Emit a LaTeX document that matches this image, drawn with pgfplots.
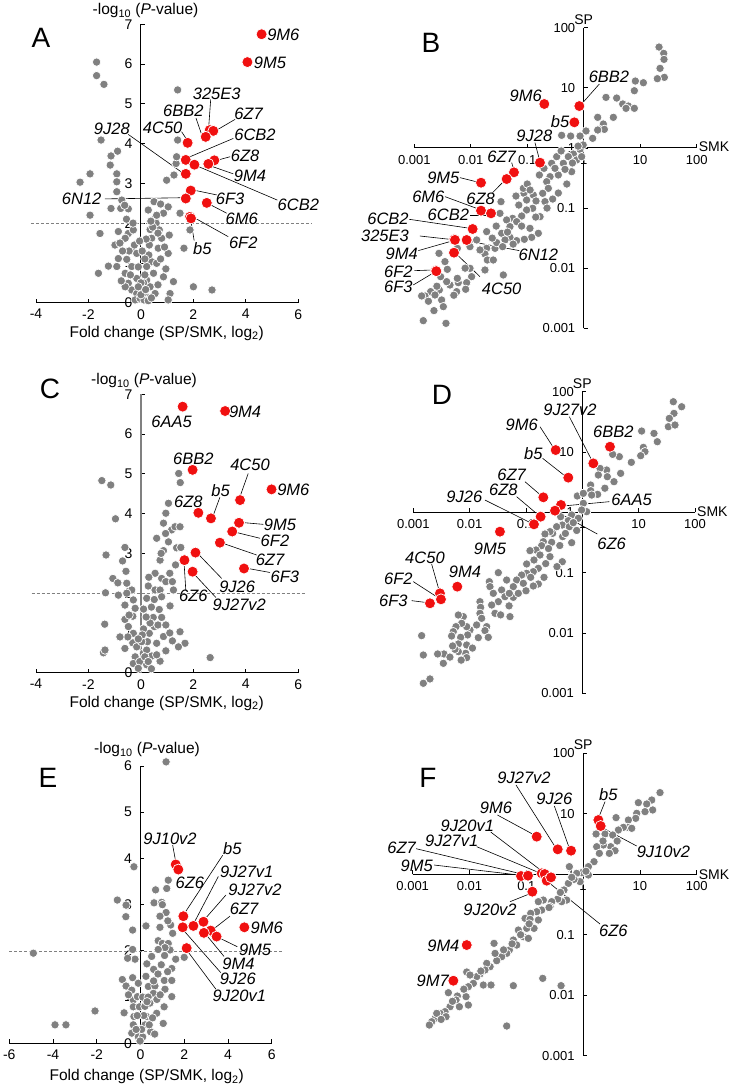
\documentclass[border=0pt]{standalone}
\usepackage{fontspec}
\setmainfont{Liberation Sans}
\usepackage{pgfplots}
\pgfplotsset{compat=1.18}
\definecolor{dgrey}{RGB}{128,128,128}
\definecolor{dred}{RGB}{240,16,16}
\pgfplotsset{
 panel/.style={scale only axis, anchor=south west, axis lines=middle,
   axis line style={-, black, line width=0.9bp}, clip=false, enlargelimits=false,
   tick align=inside, major tick length=4bp, tick style={black, line width=0.8bp},
   hide obscured x ticks=false, hide obscured y ticks=false},
 lin/.style={ticklabel style={font=\fontsize{14bp}{16bp}\selectfont},
   xticklabel style={yshift=-3bp}, yticklabel style={xshift=-5bp}},
 logp/.style={xmin=-3,xmax=2,ymin=-3,ymax=2, xtick={-3,-2,-1,0,1,2}, ytick={-3,-2,-1,0,1,2},
   xticklabels={0.001,0.01,0.1,1,10,100}, yticklabels={0.001,0.01,0.1,1,10,100},
   ticklabel style={font=\fontsize{13bp}{15bp}\selectfont},
   xticklabel style={yshift=-4bp}, yticklabel style={xshift=-5bp}},
 gdots/.style={only marks, mark=*, mark size=4.2bp, mark options={fill=dgrey, draw=white, line width=0.7bp}},
 rdots/.style={only marks, mark=*, mark size=5.5bp, mark options={fill=dred, draw=white, line width=0.7bp}},
}
\tikzset{
 lab/.style={font=\fontsize{16.5bp}{18bp}\selectfont\itshape, inner sep=0pt},
 ld/.style={black, line width=0.6bp},
 thr/.style={dgrey, line width=0.7bp, dash pattern=on 3bp off 2bp},
 ttl/.style={font=\fontsize{15.5bp}{18bp}\selectfont, inner sep=0pt},
 let/.style={font=\fontsize{28bp}{30bp}\selectfont, inner sep=0pt},
 axn/.style={font=\fontsize{14bp}{16bp}\selectfont, inner sep=0pt},
}
\begin{document}
\begin{tikzpicture}
\path[use as bounding box] (0,0) rectangle (738bp,-1089bp);
% ================= A =================
\begin{axis}[panel, lin, at={(36bp,-302.7bp)}, width=262.3bp, height=278.4bp,
  xmin=-4,xmax=6,ymin=0,ymax=7, xtick={-4,-2,0,2,4,6}, xticklabels={-4,-2,0,2,4,6},
  ytick={0,1,2,3,4,5,6,7}, yticklabels={0,1,2,3,4,5,6,7}]
\draw[thr] (axis cs:-4.2,2) -- (axis cs:6.51,2);
\addplot[gdots] table[row sep=\\] {x y\\
-1.69 6.05\\ -1.69 5.71\\ -1.41 5.49\\ -1.52 4.09\\ -0.89 3.81\\ -1.14 3.69\\ -1.17 3.46\\
-1.94 3.24\\ -0.92 3.24\\ -2.32 3.03\\ -0.92 3.04\\ -0.92 2.79\\ -0.73 2.58\\ -1.14 2.37\\
-0.77 2.37\\ -0.48 2.36\\ -0.62 2.45\\ -1.94 2.20\\ -1.56 1.74\\ -0.86 1.79\\ -0.48 1.74\\
-0.29 1.83\\ -0.99 1.45\\ -0.60 1.62\\ -0.35 1.32\\ -0.86 1.11\\ -0.54 1.09\\ -0.16 1.24\\
-0.25 1.45\\ -1.24 0.92\\ -0.92 0.91\\ -1.62 0.74\\ -0.60 0.74\\ -0.35 0.91\\ -0.48 0.49\\
-0.35 0.32\\ -0.16 0.61\\ -0.16 0.23\\ -0.22 0.07\\ -0.03 0.11\\ -0.60 0.40\\ -0.75 0.55\\
0.28 2.33\\ 0.50 2.54\\ 0.75 2.48\\ 1.04 2.41\\ 0.86 2.25\\ 0.54 2.12\\ 0.58 2.00\\
0.70 1.83\\ 0.35 1.84\\ 0.41 1.62\\ 0.79 1.62\\ 1.08 1.70\\ 0.32 1.45\\ 0.66 1.37\\
1.04 1.24\\ 0.41 1.03\\ 0.22 0.91\\ 0.60 0.99\\ 0.48 0.74\\ 0.86 0.65\\ 1.24 0.53\\
0.22 0.57\\ 0.35 0.40\\ 0.54 0.23\\ 1.11 0.23\\ 1.04 0.07\\ 0.22 0.15\\ 0.09 0.23\\
0.12 0.07\\ 2.00 0.40\\ 2.71 0.32\\ 0.98 3.08\\ 1.26 3.21\\ 1.34 3.50\\ 1.36 3.67\\
1.40 4.09\\ 1.40 5.35\\ 1.49 2.25\\ 1.87 1.83\\ 1.64 1.37\\ 0.10 0.50\\ 0.05 0.35\\
0.30 1.20\\ 0.15 1.10\\ 0.00 0.50\\ 0.15 0.70\\ -0.10 0.90\\ 0.05 1.30\\ 0.20 1.60\\
-0.05 1.55\\ 0.45 1.90\\ 0.60 2.20\\ 0.38 2.05\\ 0.65 1.75\\ 0.90 1.40\\ 0.75 1.10\\
0.95 0.85\\ 0.28 0.05\\ 0.40 0.12\\ 0.65 0.45\\ -0.45 1.30\\ -0.70 1.30\\ -0.40 0.70\\
-0.80 1.50\\ -0.55 2.10\\ -0.30 2.00\\ 0.00 0.20\\ 0.18 0.33\\ -0.10 0.40\\
};
\draw[ld] (axis cs:2.66,5.11) -- (axis cs:2.58,4.38);
\draw[ld] (axis cs:3.59,4.61) -- (axis cs:2.89,4.34);
\draw[ld] (axis cs:2.10,4.64) -- (axis cs:2.32,4.22);
\draw[ld] (axis cs:1.55,4.30) -- (axis cs:1.74,4.11);
\draw[ld] (axis cs:3.52,4.13) -- (axis cs:1.87,3.67);
\draw[ld] (axis cs:3.40,3.67) -- (axis cs:2.95,3.59);
\draw[ld] (axis cs:3.52,3.24) -- (axis cs:2.74,3.42);
\draw[ld] (axis cs:-0.48,4.23) -- (axis cs:1.62,3.25);
\draw[ld] (axis cs:5.20,2.58) -- (axis cs:2.10,3.45);
\draw[ld] (axis cs:2.89,2.71) -- (axis cs:2.02,2.83);
\draw[ld] (axis cs:-1.37,2.61) -- (axis cs:1.64,2.64);
\draw[ld] (axis cs:3.27,2.25) -- (axis cs:2.63,2.47);
\draw[ld] (axis cs:3.33,1.66) -- (axis cs:2.00,2.15);
\draw[ld] (axis cs:2.03,1.56) -- (axis cs:1.91,2.04);
\addplot[rdots] table[row sep=\\] {x y\\
4.60 6.75\\ 4.06 6.05\\ 2.62 4.34\\ 2.76 4.32\\ 2.47 4.17\\ 1.78 4.02\\ 1.71 3.59\\ 2.04 3.47\\
1.71 3.24\\ 2.80 3.58\\ 2.57 3.49\\ 1.90 2.82\\ 1.71 2.62\\ 2.51 2.51\\ 1.87 2.16\\ 1.91 2.12\\
};
\node[lab] at (axis cs:5.43,6.73) {9M6};
\node[lab] at (axis cs:4.92,6.04) {9M5};
\node[lab] at (axis cs:2.89,5.24) {325E3};
\node[lab] at (axis cs:4.10,4.76) {6Z7};
\node[lab] at (axis cs:1.62,4.83) {6BB2};
\node[lab] at (axis cs:0.83,4.39) {4C50};
\node[lab] at (axis cs:4.35,4.22) {6CB2};
\node[lab] at (axis cs:3.97,3.70) {6Z8};
\node[lab] at (axis cs:4.16,3.19) {9M4};
\node[lab] at (axis cs:-1.11,4.38) {9J28};
\node[lab] at (axis cs:6.00,2.46) {6CB2};
\node[lab] at (axis cs:3.40,2.61) {6F3};
\node[lab] at (axis cs:-2.26,2.61) {6N12};
\node[lab] at (axis cs:3.84,2.12) {6M6};
\node[lab] at (axis cs:3.90,1.51) {6F2};
\node[lab] at (axis cs:2.34,1.37) {b5};
\end{axis}
% ================= B =================
\begin{axis}[panel, logp, at={(414.3bp,-328.3bp)}, width=282.4bp, height=300.6bp]
\addplot[gdots] table[row sep=\\] {x y\\
1.333 1.678\\ 1.416 1.573\\ 1.351 1.324\\ 1.427 1.174\\ 1.303 1.152\\ 1.421 1.473\\ 0.914 1.113\\
1.056 1.085\\ 0.896 0.952\\ 0.583 0.830\\ 0.394 0.841\\ 0.690 0.731\\ 0.790 0.697\\ 0.749 0.659\\
0.896 0.659\\ 0.524 0.509\\ 0.247 0.509\\ 0.347 0.398\\ 0.276 0.309\\ 0.365 0.309\\ 0.247 0.298\\
0.158 0.160\\ 0.040 0.282\\ -0.066 0.198\\ -0.231 0.198\\ -0.391 0.210\\ -0.066 -0.023\\
-0.184 -0.101\\ -0.273 -0.145\\ -0.361 -0.256\\ -0.214 -0.395\\ -0.332 -0.356\\ -0.479 -0.145\\
-0.568 -0.256\\ -0.704 -0.339\\ -0.786 -0.450\\ -0.597 -0.478\\ -0.656 -0.561\\ -0.450 -0.450\\
-0.509 -0.339\\ -0.125 -0.200\\ -0.037 -0.145\\ -0.010 0.050\\ -0.100 0.030\\ -0.627 -0.672\\
-0.727 -0.755\\ -0.893 -0.783\\ -1.058 -0.755\\ -1.011 -0.866\\ -0.845 -0.882\\ -0.686 -0.893\\
-0.904 -1.004\\ -1.011 -1.032\\ -1.099 -1.132\\ -1.259 -1.171\\ -1.365 -1.198\\ -1.188 -1.226\\
-1.306 -1.309\\ -0.952 -1.337\\ -0.774 -1.143\\ -0.804 -1.420\\ -0.922 -1.487\\ -1.052 -1.520\\
-1.188 -1.542\\ -1.306 -1.487\\ -1.453 -1.420\\ -1.483 -1.088\\ -1.465 -0.894\\ -1.394 -1.531\\
-1.571 -1.670\\ -1.719 -1.670\\ -1.749 -1.764\\ -1.707 -1.864\\ -1.601 -1.864\\ -1.542 -1.575\\
-1.896 -1.531\\ -1.837 -1.697\\ -1.719 -1.392\\ -1.436 -1.642\\ -1.749 -2.030\\ -2.014 -2.002\\
-1.985 -2.141\\ -2.073 -2.241\\ -2.091 -2.351\\ -2.221 -2.241\\ -2.238 -2.169\\ -2.368 -2.280\\
-2.427 -2.224\\ -2.250 -2.390\\ -2.457 -1.891\\ -2.563 -1.753\\ -2.415 -2.019\\ -2.534 -2.141\\
-2.557 -2.363\\ -2.711 -2.390\\ -2.811 -2.462\\ -2.870 -2.462\\ -2.634 -2.446\\ -2.516 -2.529\\
-2.486 -2.640\\ -2.652 -2.706\\ -2.841 -2.873\\ -2.439 -2.917\\ -1.424 -2.113\\ -1.070 -0.672\\
-2.014 -1.642\\ -2.238 -1.670\\ -1.000 -0.600\\ -0.950 -0.700\\ -1.150 -0.950\\ -1.200 -0.800\\
-1.100 -1.300\\ -0.850 -1.150\\ -0.650 -1.000\\ -1.350 -1.400\\ -1.550 -1.300\\ -1.250 -1.600\\
-0.450 -0.750\\ -0.300 -0.600\\ -0.550 -0.850\\ -2.100 -2.000\\ -2.300 -2.450\\ -2.600 -2.300\\
-2.750 -2.550\\ -0.200 -0.250\\ -0.400 -0.050\\ -1.620 -1.500\\
};
\draw[ld] (axis cs:0.276,1.063) -- (axis cs:-0.037,0.731);
\draw[ld] (axis cs:-0.863,0.088) -- (axis cs:-0.786,-0.190);
\draw[ld] (axis cs:-1.276,-0.245) -- (axis cs:-1.235,-0.367);
\draw[ld] (axis cs:-2.191,-0.494) -- (axis cs:-1.884,-0.567);
\draw[ld] (axis cs:-1.613,-0.744) -- (axis cs:-1.394,-0.533);
\draw[ld] (axis cs:-2.457,-0.810) -- (axis cs:-1.849,-1.021);
\draw[ld] (axis cs:-2.014,-1.115) -- (axis cs:-1.690,-1.115);
\draw[ld] (axis cs:-3.089,-1.187) -- (axis cs:-2.014,-1.337);
\draw[ld] (axis cs:-2.900,-1.465) -- (axis cs:-2.368,-1.520);
\draw[ld] (axis cs:-2.929,-1.708) -- (axis cs:-2.351,-1.553);
\draw[ld] (axis cs:-1.140,-1.708) -- (axis cs:-2.026,-1.553);
\draw[ld] (axis cs:-3.0,-2.041) -- (axis cs:-2.675,-2.030);
\draw[ld] (axis cs:-3.018,-2.279) -- (axis cs:-2.646,-2.069);
\draw[ld] (axis cs:-1.837,-2.141) -- (axis cs:-2.238,-1.780);
\addplot[rdots] table[row sep=\\] {x y\\
-0.698 0.731\\ -0.078 0.697\\ -0.166 0.426\\ -0.775 -0.245\\ -1.235 -0.406\\ -1.365 -0.517\\
-1.819 -0.578\\ -1.819 -1.043\\ -1.642 -1.088\\ -1.967 -1.348\\ -2.292 -1.520\\ -2.280 -1.530\\
-2.073 -1.531\\ -2.297 -1.742\\ -2.622 -2.041\\ -2.610 -2.050\\
};
\node[lab] at (axis cs:-1.028,0.864) {9M6};
\node[lab] at (axis cs:0.447,1.185) {6BB2};
\node[lab] at (axis cs:-0.420,0.437) {b5};
\node[lab] at (axis cs:-0.875,0.198) {9J28};
\node[lab] at (axis cs:-1.453,-0.145) {6Z7};
\node[lab] at (axis cs:-2.486,-0.494) {9M5};
\node[lab] at (axis cs:-1.825,-0.838) {6Z8};
\node[lab] at (axis cs:-2.752,-0.810) {6M6};
\node[lab] at (axis cs:-2.398,-1.115) {6CB2};
\node[lab] at (axis cs:-3.466,-1.171) {6CB2};
\node[lab] at (axis cs:-3.519,-1.459) {325E3};
\node[lab] at (axis cs:-3.224,-1.753) {9M4};
\node[lab] at (axis cs:-0.804,-1.780) {6N12};
\node[lab] at (axis cs:-3.283,-2.058) {6F2};
\node[lab] at (axis cs:-3.283,-2.318) {6F3};
\node[lab] at (axis cs:-1.453,-2.335) {4C50};
\node[axn, anchor=south] at (axis cs:0,2) [yshift=3bp] {SP};
\node[axn, anchor=west] at (axis cs:2,0) [xshift=2bp, yshift=1bp] {SMK};
\end{axis}
% ================= C =================
\begin{axis}[panel, lin, at={(36bp,-672.7bp)}, width=262.3bp, height=278.4bp,
  xmin=-4,xmax=6,ymin=0,ymax=7, xtick={-4,-2,0,2,4,6}, xticklabels={-4,-2,0,2,4,6},
  ytick={0,1,2,3,4,5,6,7}, yticklabels={0,1,2,3,4,5,6,7},
  y axis line style={dgrey, line width=1.6bp}]
\draw[thr] (axis cs:-4.17,2) -- (axis cs:6.25,2);
\addplot[gdots] table[row sep=\\] {x y\\
-1.49 4.83\\ -1.15 4.72\\ -0.97 3.87\\ -0.61 3.15\\ -1.33 2.96\\ -0.70 2.81\\ -0.57 2.55\\
-1.07 2.37\\ -0.88 2.26\\ -0.54 2.25\\ -1.35 2.01\\ -0.86 1.95\\ -0.35 2.08\\ -0.54 2.00\\
-0.61 1.70\\ -0.29 1.83\\ -0.22 1.62\\ -0.61 1.34\\ -0.31 1.42\\ -1.38 1.22\\ -0.48 1.16\\
-0.29 0.99\\ -0.31 0.75\\ -0.61 0.61\\ -1.43 0.50\\ -1.37 0.57\\ -0.16 0.65\\ -0.22 0.40\\
-0.29 0.23\\ -0.04 0.28\\ 0.09 0.49\\ -0.10 0.11\\ 0.22 0.20\\ 1.05 4.26\\ 0.95 4.01\\
0.86 3.76\\ 1.17 3.59\\ 1.30 3.67\\ 1.49 3.67\\ 0.94 3.50\\ 1.05 3.29\\ 0.60 3.38\\
0.86 3.07\\ 1.44 5.01\\ 1.50 4.78\\ 1.36 3.14\\ 1.52 3.15\\ 1.32 2.71\\ 0.73 2.83\\
0.77 3.00\\ 0.54 2.50\\ 0.79 2.37\\ 0.95 2.29\\ 1.20 2.29\\ 1.24 2.08\\ 0.28 2.18\\
0.54 2.08\\ 0.73 2.08\\ 0.22 1.87\\ 0.51 1.84\\ 0.79 1.91\\ 1.11 1.68\\ 0.70 1.59\\
0.47 1.39\\ 0.79 1.39\\ 0.51 1.16\\ 0.32 0.99\\ 0.86 0.91\\ 1.49 1.03\\ 1.68 0.74\\
1.43 0.65\\ 0.25 0.78\\ 0.60 0.74\\ 0.22 0.57\\ 0.03 0.78\\ 0.73 0.29\\ 0.41 0.42\\
2.64 0.38\\ 0.15 0.40\\ 0.28 0.28\\ 0.10 1.10\\ 0.35 1.25\\ 0.05 0.95\\ 0.20 1.40\\
0.40 1.65\\ 0.10 1.60\\ 0.65 1.20\\ 0.95 1.20\\ 1.10 1.00\\ 0.95 0.55\\ 1.20 0.80\\
-0.45 1.45\\ -0.50 0.90\\ -0.10 0.85\\ 0.40 0.10\\ 0.60 0.45\\ 1.10 2.50\\ 0.30 2.40\\
-0.80 0.90\\
};
\draw[ld] (axis cs:4.09,5.01) -- (axis cs:3.80,4.47);
\draw[ld] (axis cs:3.01,4.41) -- (axis cs:2.76,3.96);
\draw[ld] (axis cs:4.67,3.73) -- (axis cs:3.97,3.77);
\draw[ld] (axis cs:4.54,3.38) -- (axis cs:3.68,3.52);
\draw[ld] (axis cs:4.41,2.96) -- (axis cs:3.14,3.25);
\draw[ld] (axis cs:4.92,2.52) -- (axis cs:4.09,2.62);
\draw[ld] (axis cs:3.08,2.37) -- (axis cs:2.19,2.98);
\draw[ld] (axis cs:1.71,2.08) -- (axis cs:1.65,2.71);
\draw[ld] (axis cs:2.86,1.89) -- (axis cs:2.00,2.50);
\addplot[rdots] table[row sep=\\] {x y\\
1.59 6.69\\ 3.21 6.58\\ 1.97 5.10\\ 4.98 4.61\\ 3.78 4.34\\ 2.19 4.02\\ 2.67 3.88\\
3.74 3.77\\ 3.48 3.55\\ 3.01 3.27\\ 2.08 3.02\\ 1.66 2.83\\ 1.97 2.54\\ 3.93 2.62\\
};
\node[lab] at (axis cs:1.17,6.31) {6AA5};
\node[lab] at (axis cs:3.97,6.56) {9M4};
\node[lab] at (axis cs:2.00,5.39) {6BB2};
\node[lab] at (axis cs:4.16,5.22) {4C50};
\node[lab] at (axis cs:5.81,4.59) {9M6};
\node[lab] at (axis cs:3.04,4.57) {b5};
\node[lab] at (axis cs:1.81,4.30) {6Z8};
\node[lab] at (axis cs:5.30,3.72) {9M5};
\node[lab] at (axis cs:5.11,3.32) {6F2};
\node[lab] at (axis cs:4.92,2.83) {6Z7};
\node[lab] at (axis cs:5.49,2.41) {6F3};
\node[lab] at (axis cs:3.67,2.16) {9J26};
\node[lab] at (axis cs:2.00,1.93) {6Z6};
\node[lab] at (axis cs:3.75,1.70) {9J27v2};
\end{axis}
% ================= D =================
\begin{axis}[panel, logp, at={(413.3bp,-693.3bp)}, width=281.7bp, height=301.6bp]
\addplot[gdots] table[row sep=\\] {x y\\
1.615 1.834\\ 1.763 1.751\\ 1.627 1.641\\ 1.544 1.558\\ 1.527 1.420\\ 1.645 1.448\\ 1.053 1.348\\
1.272 1.309\\ 1.331 1.171\\ 1.083 1.077\\ 1.112 1.006\\ 1.036 0.939\\ 0.870 0.829\\ 0.657 0.923\\
0.680 0.646\\ 0.538 0.961\\ 0.432 0.702\\ 0.314 0.729\\ 0.284 0.619\\ 0.444 0.591\\ 0.562 0.508\\
0.148 0.453\\ 0.148 0.359\\ 0.272 0.298\\ 0.166 0.287\\ 0.018 0.149\\ -0.089 0.271\\ 0.077 0.011\\
-0.012 0.039\\ -0.189 -0.044\\ -0.071 -0.099\\ -0.249 -0.138\\ -0.385 -0.072\\ -0.355 -0.210\\
-0.231 -0.238\\ -0.456 -0.238\\ -0.527 -0.348\\ -0.349 -0.403\\ -0.574 -0.320\\ -0.663 -0.359\\
-0.692 -0.486\\ -0.544 -0.497\\ -0.189 -0.503\\ -0.722 -0.552\\ -0.822 -0.624\\ -0.929 -0.635\\
-0.751 -0.707\\ -0.858 -0.790\\ -0.988 -0.856\\ -0.574 -0.735\\ -0.355 -0.818\\ -0.781 -0.928\\
-0.870 -0.983\\ -0.988 -1.011\\ -0.917 -1.077\\ -1.077 -1.039\\ -0.680 -1.077\\ -1.166 -1.122\\
-1.047 -1.177\\ -0.781 -1.188\\ -0.870 -1.221\\ -1.225 -1.232\\ -1.343 -1.122\\ -1.491 -1.000\\
-1.651 -1.149\\ -1.639 -1.232\\ -1.580 -1.343\\ -1.432 -1.287\\ -1.373 -1.398\\ -1.225 -1.409\\
-1.136 -1.343\\ -1.284 -1.729\\ -1.550 -1.674\\ -1.491 -1.481\\ -1.609 -1.536\\ -1.817 -1.481\\
-1.805 -1.575\\ -1.817 -1.674\\ -1.787 -1.757\\ -1.876 -1.867\\ -1.698 -1.895\\ -1.728 -1.961\\
-1.669 -2.072\\ -1.846 -2.077\\ -1.994 -1.950\\ -2.053 -1.895\\ -2.036 -2.033\\ -2.112 -1.729\\
-2.142 -1.840\\ -2.201 -1.702\\ -2.243 -1.895\\ -2.290 -1.978\\ -2.320 -2.050\\ -2.160 -2.072\\
-2.201 -2.182\\ -2.053 -2.199\\ -2.071 -2.337\\ -2.201 -2.309\\ -2.260 -2.271\\ -2.302 -2.215\\
-2.053 -2.409\\ -2.456 -2.348\\ -2.568 -2.348\\ -2.822 -2.365\\ -2.852 -2.044\\ -2.822 -2.834\\
-2.704 -2.762\\ -2.467 -2.503\\ -0.160 -0.171\\ 0.018 0.315\\ -1.296 -1.343\\ -0.600 -0.600\\
-0.400 -0.550\\ -0.450 -0.900\\ -0.650 -0.850\\ -1.000 -1.300\\ -1.300 -1.550\\ -1.450 -1.700\\
-1.950 -2.250\\ -2.150 -2.450\\ -2.350 -2.400\\ -0.300 -0.350\\ 0.400 0.400\\ -0.100 -0.300\\
};
\draw[ld] (axis cs:-0.751,1.420) -- (axis cs:-0.515,1.077);
\draw[ld] (axis cs:-0.231,1.586) -- (axis cs:0.166,0.867);
\draw[ld] (axis cs:-0.704,0.895) -- (axis cs:-0.290,0.591);
\draw[ld] (axis cs:-1.018,0.508) -- (axis cs:-0.722,0.271);
\draw[ld] (axis cs:-1.166,0.260) -- (axis cs:-0.781,-0.044);
\draw[ld] (axis cs:-1.728,0.204) -- (axis cs:-0.899,-0.182);
\draw[ld] (axis cs:0.479,0.177) -- (axis cs:-0.290,0.110);
\draw[ld] (axis cs:0.266,-0.359) -- (axis cs:-0.456,0.011);
\draw[ld] (axis cs:-2.675,-0.856) -- (axis cs:-2.544,-1.287);
\draw[ld] (axis cs:-3.0,-1.149) -- (axis cs:-2.568,-1.409);
\draw[ld] (axis cs:-3.03,-1.464) -- (axis cs:-2.751,-1.497);
\addplot[rdots] table[row sep=\\] {x y\\
-0.473 1.033\\ 0.491 1.088\\ 0.195 0.812\\ -0.249 0.575\\ -0.692 0.249\\ -0.379 0.122\\
-0.485 0.028\\ -0.740 -0.072\\ -0.858 -0.199\\ -1.462 -0.320\\ -2.219 -1.232\\ -2.527 -1.343\\
-2.509 -1.442\\ -2.704 -1.508\\
};
\node[lab] at (axis cs:-1.077,1.448) {9M6};
\node[lab] at (axis cs:-0.219,1.696) {9J27v2};
\node[lab] at (axis cs:0.550,1.337) {6BB2};
\node[lab] at (axis cs:-0.870,0.978) {b5};
\node[lab] at (axis cs:-1.254,0.619) {6Z7};
\node[lab] at (axis cs:-1.402,0.370) {6Z8};
\node[lab] at (axis cs:-2.095,0.260) {9J26};
\node[lab] at (axis cs:0.876,0.204) {6AA5};
\node[lab] at (axis cs:0.521,-0.514) {6Z6};
\node[lab] at (axis cs:-1.639,-0.597) {9M5};
\node[lab] at (axis cs:-2.083,-0.983) {9M4};
\node[lab] at (axis cs:-2.793,-0.762) {4C50};
\node[lab] at (axis cs:-3.266,-1.094) {6F2};
\node[lab] at (axis cs:-3.355,-1.464) {6F3};
\node[axn, anchor=south] at (axis cs:0,2) [yshift=3bp] {SP};
\node[axn, anchor=west] at (axis cs:2,0) [xshift=2bp, yshift=1bp] {SMK};
\end{axis}
% ================= E =================
\begin{axis}[panel, lin, at={(9.3bp,-1043.3bp)}, width=262.4bp, height=277.3bp,
  xmin=-6,xmax=6,ymin=0,ymax=6, xtick={-6,-4,-2,0,2,4,6}, xticklabels={-6,-4,-2,0,2,4,6},
  ytick={0,1,2,3,4,5,6}, yticklabels={0,1,2,3,4,5,6}]
\draw[thr] (axis cs:-6,2) -- (axis cs:6.53,2);
\addplot[gdots] table[row sep=\\] {x y\\
1.17 6.09\\ -0.30 3.82\\ -1.06 3.10\\ -0.66 2.99\\ -0.67 2.74\\ -0.36 2.45\\ -0.36 2.03\\
-0.25 1.82\\ -0.59 1.84\\ -4.90 1.95\\ -3.91 0.40\\ -3.41 0.40\\ -2.08 0.70\\ -0.83 1.38\\
-0.66 1.24\\ -0.36 1.42\\ -0.40 1.15\\ -0.75 0.66\\ -0.33 0.94\\ -0.33 0.79\\ -0.30 0.58\\
-0.33 0.40\\ -0.40 0.22\\ -0.10 0.14\\ -0.14 1.01\\ -0.05 0.79\\ 1.27 3.53\\ 1.20 3.35\\
0.69 3.32\\ 0.62 3.04\\ 0.97 3.05\\ 1.17 2.83\\ 0.89 2.75\\ 1.47 2.38\\ 0.25 2.54\\
0.89 2.51\\ 0.81 2.22\\ 1.00 2.16\\ 1.27 2.16\\ 1.35 2.02\\ 1.12 2.07\\ 0.81 2.03\\
0.51 1.88\\ 0.29 1.72\\ 1.61 1.82\\ 1.43 1.62\\ 2.00 1.86\\ 1.24 1.55\\ 1.09 1.36\\
1.43 1.36\\ 0.36 1.23\\ 0.66 1.24\\ 0.59 1.08\\ 0.43 0.87\\ 0.10 1.00\\ 1.12 1.17\\
1.43 1.01\\ 1.08 0.79\\ 0.74 0.65\\ 1.04 0.43\\ 0.28 0.58\\ 0.21 0.40\\ 0.46 0.25\\
0.10 0.14\\ -0.02 0.05\\ 1.38 2.56\\ 0.20 0.80\\ 0.55 0.55\\ 0.05 0.30\\ -0.20 0.30\\
0.35 1.00\\ 0.60 1.60\\ 0.15 0.60\\ 0.30 0.90\\ 0.60 1.35\\ 0.80 1.50\\ 0.95 1.70\\
1.10 1.90\\ 0.75 0.95\\ 0.90 1.05\\ 0.40 0.40\\ 0.65 0.20\\ -0.15 0.60\\ -0.55 1.05\\
-0.10 1.30\\ 0.25 1.45\\ 1.25 2.65\\ 1.00 3.00\\
};
\draw[ld] (axis cs:1.47,4.29) -- (axis cs:1.61,3.93);
\draw[ld] (axis cs:3.76,4.07) -- (axis cs:2.01,2.81);
\draw[ld] (axis cs:3.56,3.61) -- (axis cs:2.42,2.58);
\draw[ld] (axis cs:3.91,3.21) -- (axis cs:2.91,2.67);
\draw[ld] (axis cs:4.09,2.75) -- (axis cs:3.33,2.47);
\draw[ld] (axis cs:4.43,2.09) -- (axis cs:3.56,2.29);
\draw[ld] (axis cs:3.82,1.88) -- (axis cs:2.95,2.38);
\draw[ld] (axis cs:3.67,1.53) -- (axis cs:1.96,2.45);
\draw[ld] (axis cs:3.45,1.17) -- (axis cs:2.11,2.02);
\addplot[rdots] table[row sep=\\] {x y\\
1.61 3.87\\ 1.73 3.76\\ 1.96 2.75\\ 2.42 2.54\\ 2.88 2.63\\ 3.21 2.44\\ 4.75 2.51\\
3.48 2.31\\ 2.90 2.39\\ 1.93 2.51\\ 2.11 2.06\\
};
\node[lab] at (axis cs:1.35,4.43) {9J10v2};
\node[lab] at (axis cs:2.26,3.48) {6Z6};
\node[lab] at (axis cs:4.20,4.22) {b5};
\node[lab] at (axis cs:4.86,3.71) {9J27v1};
\node[lab] at (axis cs:5.24,3.32) {9J27v2};
\node[lab] at (axis cs:4.74,2.90) {6Z7};
\node[lab] at (axis cs:5.77,2.49) {9M6};
\node[lab] at (axis cs:5.24,2.03) {9M5};
\node[lab] at (axis cs:4.48,1.73) {9M4};
\node[lab] at (axis cs:4.45,1.40) {9J26};
\node[lab] at (axis cs:4.52,1.03) {9J20v1};
\end{axis}
% ================= F =================
\begin{axis}[panel, logp, at={(412.7bp,-1055.7bp)}, width=284bp, height=302.4bp]
\addplot[gdots] table[row sep=\\] {x y\\
1.354 1.350\\ 1.208 1.228\\ 1.120 1.162\\ 0.973 1.184\\ 1.225 1.063\\ 1.090 1.035\\ 0.944 1.008\\
0.926 0.925\\ 0.797 0.897\\ 0.779 0.776\\ 0.856 0.760\\ 0.580 0.936\\ 0.709 0.776\\ 0.621 0.732\\
0.386 0.666\\ 0.228 0.666\\ 0.521 0.649\\ 0.486 0.456\\ 0.357 0.484\\ 0.562 0.390\\ 0.462 0.346\\
0.239 0.456\\ 0.286 0.346\\ 0.192 0.208\\ 0.093 0.126\\ 0.093 -0.012\\ -0.025 0.026\\ -0.113 0.015\\
-0.054 -0.122\\ -0.242 0.126\\ -0.160 -0.084\\ -0.259 -0.150\\ -0.336 -0.260\\ -0.289 -0.426\\
-0.377 -0.453\\ -0.447 -0.409\\ -0.553 -0.453\\ -0.700 -0.426\\ -0.788 -0.453\\ -0.729 -0.591\\
-0.817 -0.619\\ -0.923 -0.646\\ -1.022 -0.729\\ -0.934 -0.745\\ -0.788 -0.756\\ -0.864 -0.894\\
-0.993 -0.894\\ -1.140 -0.922\\ -1.052 -1.032\\ -0.964 -1.060\\ -1.228 -1.087\\ -1.169 -1.170\\
-1.298 -1.252\\ -1.345 -1.308\\ -1.433 -1.363\\ -1.521 -1.429\\ -1.638 -1.528\\ -1.697 -1.473\\
-1.568 -1.142\\ -1.550 -1.308\\ -1.727 -1.583\\ -1.815 -1.649\\ -1.873 -1.693\\ -1.932 -1.804\\
-2.020 -1.859\\ -2.061 -2.024\\ -2.214 -2.013\\ -2.237 -2.079\\ -2.343 -2.190\\ -2.431 -2.272\\
-2.519 -2.300\\ -2.607 -2.383\\ -2.665 -2.438\\ -2.707 -2.493\\ -2.577 -2.300\\ -2.372 -1.958\\
-2.049 -1.616\\ -1.991 -1.666\\ -1.756 -1.831\\ -1.621 -1.831\\ -1.228 -1.842\\ -0.711 -1.721\\
-0.388 -1.842\\ -1.345 -2.509\\ -2.020 -2.162\\ -2.178 -2.190\\ -2.413 -2.355\\ -0.582 -0.536\\
-0.400 -0.300\\ -0.600 -0.550\\ -0.950 -0.820\\ -1.100 -1.000\\ -1.250 -1.150\\ -1.400 -1.250\\
-1.800 -1.600\\ -2.100 -1.900\\ -2.300 -2.100\\ -2.500 -2.400\\ 0.050 0.050\\ 0.350 0.550\\
0.600 0.550\\ -0.200 -0.050\\
};
\draw[ld] (axis cs:-1.181,1.476) -- (axis cs:-0.494,0.456);
\draw[ld] (axis cs:-0.506,1.129) -- (axis cs:-0.242,0.429);
\draw[ld] (axis cs:0.386,1.201) -- (axis cs:0.269,0.925);
\draw[ld] (axis cs:-1.509,0.980) -- (axis cs:-0.858,0.649);
\draw[ld] (axis cs:-1.627,0.699) -- (axis cs:-0.688,0.026);
\draw[ld] (axis cs:-1.873,0.456) -- (axis cs:-0.746,0.015);
\draw[ld] (axis cs:-2.941,0.423) -- (axis cs:-1.005,-0.012);
\draw[ld] (axis cs:-2.624,0.153) -- (axis cs:-1.140,-0.012);
\draw[ld] (axis cs:0.944,0.467) -- (axis cs:0.327,0.776);
\draw[ld] (axis cs:-1.286,-0.453) -- (axis cs:-0.917,-0.315);
\draw[ld] (axis cs:0.298,-0.823) -- (axis cs:-0.623,-0.122);
\addplot[rdots] table[row sep=\\] {x y\\
0.269 0.897\\ 0.310 0.798\\ -0.817 0.622\\ -0.447 0.412\\ -0.212 0.390\\ -1.093 -0.029\\
-0.970 -0.023\\ -0.729 0.015\\ -0.676 0.004\\ -0.641 -0.106\\ -0.565 -0.051\\ -0.893 -0.288\\
-2.049 -1.170\\ -2.284 -1.760\\
};
\node[lab] at (axis cs:-1.040,1.587) {9J27v2};
\node[lab] at (axis cs:-0.506,1.245) {9J26};
\node[lab] at (axis cs:0.445,1.311) {b5};
\node[lab] at (axis cs:-1.533,1.101) {9M6};
\node[lab] at (axis cs:-2.038,0.798) {9J20v1};
\node[lab] at (axis cs:-2.313,0.556) {9J27v1};
\node[lab] at (axis cs:-3.194,0.445) {6Z7};
\node[lab] at (axis cs:-2.930,0.142) {9M5};
\node[lab] at (axis cs:1.413,0.374) {9J10v2};
\node[lab] at (axis cs:-1.638,-0.580) {9J20v2};
\node[lab] at (axis cs:0.533,-0.933) {6Z6};
\node[lab] at (axis cs:-2.460,-1.181) {9M4};
\node[lab] at (axis cs:-2.648,-1.765) {9M7};
\node[axn, anchor=south] at (axis cs:0,2) [yshift=3bp] {SP};
\node[axn, anchor=west] at (axis cs:2,0) [xshift=2bp, yshift=0bp] {SMK};
\end{axis}
% ================= titles and panel letters =================
\node[ttl] at (145.5bp,-10.5bp) {-log\textsubscript{10} (\textit{P}-value)};
\node[ttl] at (166.7bp,-333.3bp) {Fold change (SP/SMK, log\textsubscript{2})};
\node[ttl] at (144bp,-380.5bp) {-log\textsubscript{10} (\textit{P}-value)};
\node[ttl] at (166.7bp,-703.3bp) {Fold change (SP/SMK, log\textsubscript{2})};
\node[ttl] at (147bp,-749.5bp) {-log\textsubscript{10} (\textit{P}-value)};
\node[ttl] at (146.7bp,-1076.7bp) {Fold change (SP/SMK, log\textsubscript{2})};
\node[let] at (41bp,-38bp) {A};
\node[let] at (431bp,-43bp) {B};
\node[let] at (50bp,-389bp) {C};
\node[let] at (442bp,-395bp) {D};
\node[let] at (48bp,-778bp) {E};
\node[let] at (428bp,-778bp) {F};
\end{tikzpicture}
\end{document}
